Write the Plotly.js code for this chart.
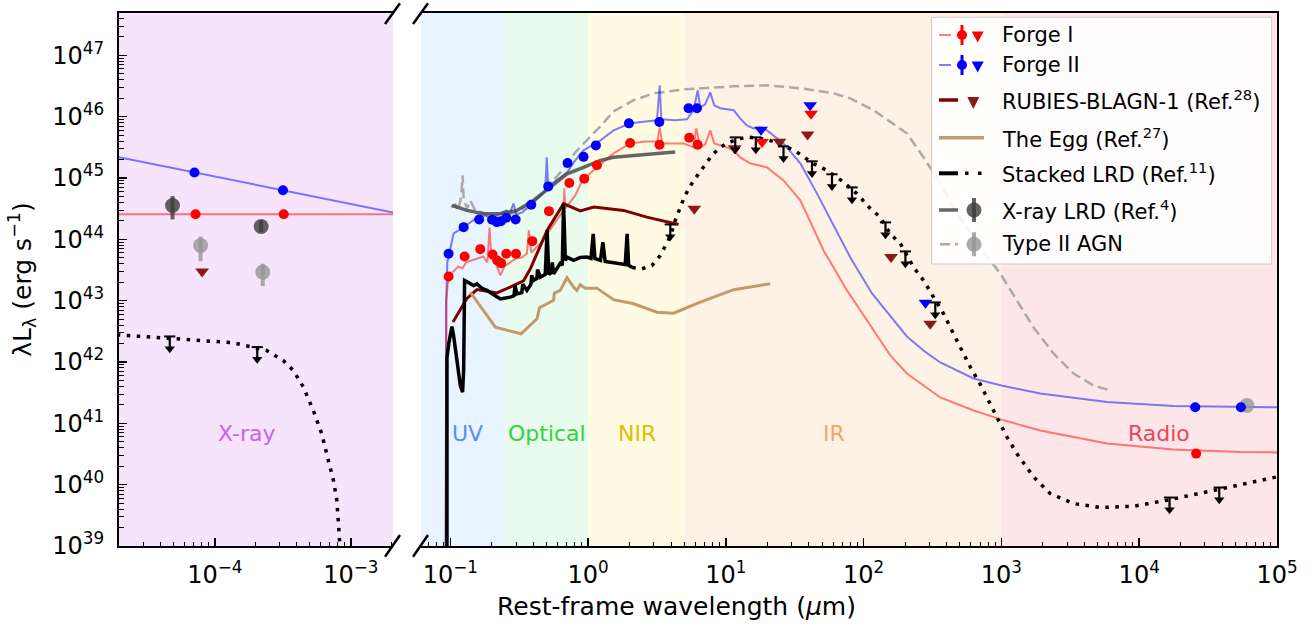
<!DOCTYPE html>
<html><head><meta charset="utf-8">
<script src="https://cdn.plot.ly/plotly-3.0.1.min.js"></script>
<style>html,body{margin:0;padding:0;background:#fff}#chart{width:1316px;height:629px}</style>
</head><body><div id="chart"></div>
<script>
// ===================== DATA =====================
// ---- Left (X-ray) panel: wavelength in micron, luminosity in erg/s ----
const xr_forge1_wl = [7.21e-5, 3.21e-4];
const xr_forge1_L  = [2.57e44, 2.57e44];
const xr_forge1_line_wl = [1e-5, 1e-2];
const xr_forge1_line_L  = [2.57e44, 2.57e44];
const xr_forge2_wl = [7.08e-5, 3.17e-4];
const xr_forge2_L  = [1.23e45, 6.3e44];
const xr_forge2_line_wl = [1e-5, 1e-2];
const xr_forge2_line_L  = [2.95e45, 1.35e44];
const xr_xlrd_wl = [4.88e-5, 2.19e-4];
const xr_xlrd_L  = [3.57e44, 1.62e44];
const xr_xlrd_hi = [5.07e44, 2.03e44];
const xr_xlrd_lo = [2.11e44, 1.31e44];
const xr_type2_wl = [7.85e-5, 2.25e-4];
const xr_type2_L  = [7.94e43, 2.92e43];
const xr_type2_hi = [1.11e44, 4.0e43];
const xr_type2_lo = [4.41e43, 1.73e43];
const xr_rubies_lim_wl = [8.06e-5];
const xr_rubies_lim_L  = [2.99e43];
const xr_lrd_model_wl = [1.9e-5, 4.66e-5, 1.36e-4, 2.40e-4, 3.18e-4, 3.78e-4, 4.48e-4, 5.30e-4, 6.11e-4, 6.84e-4, 7.45e-4, 7.89e-4, 8.20e-4, 8.34e-4, 8.5e-4];
const xr_lrd_model_L  = [2.78e42, 2.44e42, 2.06e42, 1.54e42, 1.06e42, 7.26e41, 3.88e41, 1.62e41, 6.75e40, 2.47e40, 1.17e40, 5.51e39, 1.78e39, 1.22e39, 5e38];
const xr_lrd_lim_wl = [4.66e-5, 2.05e-4];
const xr_lrd_lim_L  = [2.61e42, 1.75e42];

// ---- Right (UV -> radio) panel ----
const forge1_wl = [0.0972, 0.127, 0.165, 0.203, 0.219, 0.234, 0.255, 0.300, 0.394, 0.520, 0.731, 0.938, 1.16, 2.02, 3.30, 5.42, 6.24, 2.59e4];
const forge1_L  = [2.48e43, 5.26e43, 6.92e43, 5.67e43, 4.53e43, 4.09e43, 5.82e43, 5.82e43, 9.34e43, 2.88e44, 8.26e44, 9.73e44, 1.61e45, 3.71e45, 3.49e45, 4.54e45, 3.49e45, 3.21e40];
const forge1_lim_wl = [18.3, 41.5];
const forge1_lim_L  = [3.85e45, 1.12e46];
const forge2_wl = [0.0972, 0.125, 0.162, 0.201, 0.218, 0.233, 0.255, 0.298, 0.387, 0.514, 0.710, 0.927, 1.14, 1.98, 3.29, 5.36, 6.17, 2.55e4, 5.47e4];
const forge2_L  = [5.82e43, 1.58e44, 2.11e44, 2.09e44, 1.91e44, 1.98e44, 2.25e44, 2.11e44, 3.66e44, 7.29e44, 1.75e45, 2.21e45, 3.40e45, 7.78e45, 8.17e45, 1.37e46, 1.37e46, 1.83e41, 1.83e41];
const forge2_lim_wl = [18.0, 40.9, 281];
const forge2_lim_L  = [6.14e45, 1.53e46, 9.25e42];

const forge1_model_wl = [0.0925, 0.0935, 0.0959, 0.1034, 0.1143, 0.1222, 0.1306, 0.1445, 0.1597, 0.1735, 0.1856, 0.1928, 0.1985, 0.2123, 0.231, 0.247, 0.272, 0.301, 0.333, 0.360, 0.372, 0.387, 0.435, 0.473, 0.514, 0.550, 0.587, 0.664, 0.672, 0.684, 0.807, 0.908, 1.16, 1.53, 2.02, 2.60, 3.18, 3.31, 3.45, 4.29, 4.93, 5.83, 6.10, 6.52, 7.08, 7.70, 8.24, 10.2, 11.4, 12.7, 15.0, 17.3, 19.9, 26.2, 34.7, 51.2, 75.7, 112, 156, 206, 360, 628, 1002, 1914, 5834, 1.77e4, 5.41e4, 1.25e5];
const forge1_model_L  = [5.8e38, 1.0e43, 1.91e43, 2.88e43, 3.61e43, 3.35e43, 4.20e43, 4.53e43, 4.88e43, 5.26e43, 4.20e43, 1.56e44, 4.88e43, 4.20e43, 2.58e43, 3.61e43, 4.20e43, 4.88e43, 5.07e43, 5.89e43, 1.40e44, 6.11e43, 7.94e43, 9.59e43, 1.30e44, 1.62e44, 2.03e44, 2.96e44, 6.76e44, 3.19e44, 5.20e44, 9.14e44, 1.49e45, 2.52e45, 3.66e45, 3.95e45, 3.95e45, 6.69e45, 3.66e45, 3.66e45, 3.66e45, 3.16e45, 6.44e45, 3.16e45, 3.53e45, 5.98e45, 3.66e45, 3.16e45, 2.82e45, 2.17e45, 1.73e45, 1.61e45, 1.49e45, 9.14e44, 4.31e44, 6.59e43, 1.47e43, 3.94e42, 1.28e42, 6.49e41, 2.64e41, 1.62e41, 1.15e41, 7.63e40, 4.69e40, 3.74e40, 3.40e40, 3.34e40];
const forge2_model_wl = [0.0925, 0.0935, 0.0951, 0.1057, 0.125, 0.140, 0.156, 0.180, 0.195, 0.231, 0.255, 0.272, 0.288, 0.301, 0.333, 0.381, 0.450, 0.489, 0.501, 0.514, 0.587, 0.703, 0.807, 0.927, 1.23, 1.53, 2.02, 2.60, 3.16, 3.31, 3.40, 4.29, 5.22, 5.83, 6.25, 6.52, 7.08, 7.70, 8.24, 9.10, 11.4, 12.7, 14.2, 15.9, 17.8, 19.9, 26.2, 34.7, 45.8, 60.5, 80.0, 115, 156, 206, 272, 360, 628, 1002, 1914, 5834, 1.77e4, 5.41e4, 1.25e5];
const forge2_model_L  = [5.8e38, 1.0e43, 4.2e43, 1.25e44, 1.56e44, 1.89e44, 2.28e44, 2.45e44, 2.19e44, 2.65e44, 2.96e44, 2.75e44, 3.85e44, 2.55e44, 2.75e44, 3.57e44, 5.01e44, 6.28e44, 2.17e45, 7.29e44, 9.14e44, 1.23e45, 1.94e45, 2.82e45, 4.10e45, 5.98e45, 7.78e45, 8.38e45, 8.71e45, 3.24e46, 9.04e45, 8.71e45, 9.04e45, 1.27e46, 2.69e46, 1.42e46, 1.59e46, 2.49e46, 1.53e46, 1.37e46, 1.27e46, 9.38e45, 7.21e45, 6.44e45, 6.69e45, 5.98e45, 3.66e45, 1.73e45, 5.61e44, 1.69e44, 5.07e43, 1.31e43, 5.74e42, 2.61e42, 1.54e42, 9.82e41, 5.38e41, 4.14e41, 3.06e41, 2.22e41, 1.91e41, 1.85e41, 1.81e41];

const type2_wl = [0.1017, 0.1087, 0.1143, 0.1202, 0.1228, 0.1253, 0.1328, 0.1396, 0.1518, 0.1795, 0.231, 0.322, 0.450, 0.628, 0.807, 1.04, 1.23, 1.53, 2.14, 2.99, 4.93, 11.4, 19.9, 34.7, 60.5, 80.0, 118, 206, 272, 360, 475, 701, 980, 1294, 1710, 2388, 3334, 4656, 6152];
const type2_L  = [3.31e44, 3.71e44, 2.96e44, 5.20e44, 1.10e45, 4.31e44, 3.19e44, 4.31e44, 2.96e44, 2.65e44, 2.19e44, 2.96e44, 5.20e44, 1.23e45, 2.62e45, 4.77e45, 6.95e45, 1.22e46, 1.85e46, 2.40e46, 2.79e46, 3.12e46, 3.24e46, 2.90e46, 2.40e46, 1.99e46, 1.27e46, 5.35e45, 2.17e45, 8.17e44, 2.65e44, 7.38e43, 2.78e43, 1.01e43, 3.66e42, 1.38e42, 6.49e41, 4.14e41, 3.43e41];
const type2_radio_wl = [6.04e4];
const type2_radio_L  = [1.95e41];

const xlrd_wl = [0.1028, 0.1321, 0.1745, 0.231, 0.305, 0.402, 0.532, 0.703, 0.927, 1.23, 1.53, 2.67, 4.29];
const xlrd_L  = [3.57e44, 2.96e44, 2.62e44, 2.62e44, 2.96e44, 4.31e44, 7.11e44, 1.17e45, 1.49e45, 1.94e45, 2.17e45, 2.43e45, 2.65e45];

const rubies_wl = [0.1047, 0.1321, 0.156, 0.218, 0.272, 0.340, 0.381, 0.504, 0.664, 0.877, 1.10, 1.81, 2.67, 4.54];
const rubies_L  = [4.47e42, 1.09e43, 1.52e43, 1.34e43, 1.66e43, 2.10e43, 3.31e43, 1.40e44, 3.81e44, 2.90e44, 3.37e44, 2.96e44, 2.30e44, 1.75e44];
const rubies_lim_wl = [5.90, 11.6, 24.5, 39.2, 158, 304];
const rubies_lim_L  = [3.16e44, 3.04e45, 3.88e45, 5.14e45, 5.13e43, 4.20e42];

const egg_wl = [0.1396, 0.2123, 0.326, 0.426, 0.444, 0.562, 0.569, 0.628, 0.703, 0.785, 0.830, 0.877, 0.955, 1.16, 1.53, 2.14, 3.16, 4.17, 6.52, 11.4, 21.0];
const egg_L  = [1.38e43, 3.70e42, 2.88e42, 5.07e42, 7.66e42, 1.01e43, 1.33e43, 1.47e43, 2.37e43, 1.66e43, 1.47e43, 1.82e43, 1.60e43, 1.60e43, 1.04e43, 8.90e42, 6.49e42, 6.25e42, 9.44e42, 1.51e43, 1.89e43];

const lrd_spec_wl = [0.0946, 0.0946, 0.0975, 0.1028, 0.1059, 0.1119, 0.1183, 0.1228, 0.125, 0.127, 0.1358, 0.1477, 0.156, 0.170, 0.1846, 0.201, 0.231, 0.272, 0.290, 0.295, 0.305, 0.330, 0.336, 0.360, 0.385, 0.390, 0.402, 0.425, 0.430, 0.450, 0.489, 0.504, 0.519, 0.545, 0.550, 0.562, 0.628, 0.650, 0.664, 0.684, 0.703, 0.785, 0.877, 0.979, 1.05, 1.09, 1.12, 1.23, 1.28, 1.33, 1.71, 1.86, 1.92, 1.97, 2.09];
const lrd_spec_L  = [5.8e38, 1.18e42, 2.00e42, 3.79e42, 2.61e42, 9.82e41, 4.14e41, 3.22e41, 7.26e41, 2.14e43, 1.98e43, 1.77e43, 1.88e43, 1.58e43, 1.47e43, 1.29e43, 1.07e43, 1.14e43, 1.20e43, 1.75e43, 1.29e43, 1.35e43, 1.85e43, 1.47e43, 1.85e43, 2.6e43, 2.14e43, 2.3e43, 3.2e43, 2.42e43, 2.68e43, 1.40e44, 2.68e43, 2.9e43, 4.2e43, 2.75e43, 4.05e43, 3.79e43, 3.81e44, 4.53e43, 5.13e43, 4.53e43, 5.07e43, 5.13e43, 4.88e43, 1.23e44, 4.88e43, 4.53e43, 8.99e43, 4.37e43, 4.05e43, 3.90e43, 1.23e44, 3.79e43, 3.48e43];
const lrd_model_wl = [2.09, 2.46, 2.91, 3.34, 3.95, 4.29, 4.80, 5.36, 6.00, 7.08, 7.92, 9.10, 10.5, 12.7, 14.6, 19.9, 24.8, 32.8, 43.3, 54.2, 71.5, 89.3, 112, 132, 156, 185, 230, 272, 321, 380, 475, 594, 701, 829, 1097, 1294, 1710, 2259, 3334, 5212, 9099, 1.59e4, 2.62e4, 4.57e4, 1e5];
const lrd_model_L  = [3.48e43, 3.31e43, 3.75e43, 5.46e43, 1.11e44, 2.03e44, 3.90e44, 6.76e44, 9.84e44, 1.61e45, 2.34e45, 3.16e45, 3.81e45, 4.38e45, 4.65e45, 4.22e45, 3.63e45, 2.65e45, 1.71e45, 1.33e45, 8.57e44, 5.55e44, 3.16e44, 2.30e44, 1.23e44, 8.47e43, 3.52e43, 2.14e43, 1.14e43, 6.12e42, 2.24e42, 8.32e41, 4.35e41, 2.10e41, 5.98e40, 3.21e40, 1.34e40, 7.16e39, 4.92e39, 4.24e39, 4.45e39, 5.57e39, 7.16e39, 9.18e39, 1.34e40];
const lrd_lim_wl = [3.95, 11.7, 16.5, 26.2, 42.2, 58.9, 82.3, 144, 201, 331, 1.66e4, 3.81e4];
const lrd_lim_L  = [1.75e44, 4.59e45, 4.59e45, 3.28e45, 1.87e45, 1.15e45, 7.03e44, 1.89e44, 6.35e43, 9.35e42, 6.17e39, 8.98e39];

// wavelength bands (micron) and labels
const band_edges  = [0.25, 1, 5, 1000];
const band_names  = ['X-ray', 'UV', 'Optical', 'NIR', 'IR', 'Radio'];

// ticks
const xr_tick_vals = [1e-4, 1e-3];
const xr_tick_text = ['10<sup>−4</sup>', '10<sup>−3</sup>'];
const x_tick_vals = [1e-1, 1e0, 1e1, 1e2, 1e3, 1e4, 1e5];
const x_tick_text = ['10<sup>−1</sup>', '10<sup>0</sup>', '10<sup>1</sup>', '10<sup>2</sup>', '10<sup>3</sup>', '10<sup>4</sup>', '10<sup>5</sup>'];
const y_tick_vals = [1e39, 1e40, 1e41, 1e42, 1e43, 1e44, 1e45, 1e46, 1e47];
const y_tick_text = ['10<sup>39</sup>', '10<sup>40</sup>', '10<sup>41</sup>', '10<sup>42</sup>', '10<sup>43</sup>', '10<sup>44</sup>', '10<sup>45</sup>', '10<sup>46</sup>', '10<sup>47</sup>'];

const legend_labels = ['Forge I', 'Forge II', 'RUBIES-BLAGN-1 (Ref.<sup>28</sup>)', 'The Egg (Ref.<sup>27</sup>)', 'Stacked LRD (Ref.<sup>11</sup>)', 'X-ray LRD (Ref.<sup>4</sup>)', 'Type II AGN'];

// ===================== STYLE =====================
const FONT = 'DejaVu Sans, Verdana, sans-serif';
const C = {
  red: '#ff0000', redLine: 'rgba(255,0,0,0.5)',
  blue: '#0000ff', blueLine: 'rgba(0,0,255,0.5)',
  rubLine: '#800000', rubTri: '#8b1a1a',
  egg: '#c49a6c', xlrd: 'rgba(75,75,75,0.85)', xlrdPt: 'rgba(60,60,60,0.8)',
  type2: '#aaaaaa', type2Pt: 'rgba(150,150,150,0.8)'
};
const X1_RANGE = [-4.705, -2.690];
const X2_RANGE = [-1.2126, 5];
const Y_RANGE = [39, 47.69];

function minorVals(d0, d1) { const v = []; for (let d = d0; d <= d1; d++) for (let k = 2; k <= 9; k++) v.push(k * Math.pow(10, d)); return v; }

function lineTr(x, y, xa, ya, color, width, dash) {
  return {type: 'scatter', mode: 'lines', x: x, y: y, xaxis: xa, yaxis: ya,
    line: {color: color, width: width, dash: dash || 'solid'}, hoverinfo: 'skip', showlegend: false};
}
function markTr(x, y, xa, ya, symbol, size, color, err, errColor) {
  const t = {type: 'scatter', mode: 'markers', x: x, y: y, xaxis: xa, yaxis: ya,
    marker: {symbol: symbol, size: size, color: color, line: {width: 0}}, hoverinfo: 'skip', showlegend: false};
  if (err) {
    t.error_y = {type: 'data', symmetric: false,
      array: err.hi.map((h, i) => h - y[i]), arrayminus: err.lo.map((l, i) => y[i] - l),
      thickness: 4, width: 0, color: errColor};
  }
  return t;
}
// upper-limit arrows: cap at the limit, shaft, and arrow head below
function arrowTr(x, y, xa, ya) {
  const drop = Math.pow(10, 0.2);
  const yb = y.map(v => v / drop);
  return [
    {type: 'scatter', mode: 'markers', x: x, y: yb, xaxis: xa, yaxis: ya, marker: {size: 1, color: 'rgba(0,0,0,0)'},
     error_y: {type: 'data', symmetric: false, array: y.map((v, i) => v - yb[i]), arrayminus: y.map(() => 0),
       width: 0, thickness: 2.2, color: 'black'}, hoverinfo: 'skip', showlegend: false},
    {type: 'scatter', mode: 'markers', x: x, y: y, xaxis: xa, yaxis: ya,
     marker: {symbol: 'line-ew', size: 8, line: {width: 2, color: 'black'}}, hoverinfo: 'skip', showlegend: false},
    {type: 'scatter', mode: 'markers', x: x, y: yb, xaxis: xa, yaxis: ya,
     marker: {symbol: 'triangle-down', size: 9, color: 'black', line: {width: 0}}, hoverinfo: 'skip', showlegend: false}
  ];
}

const DOT = '3.5px,6.5px';
const traces = [
  // left panel
  lineTr(xr_forge2_line_wl, xr_forge2_line_L, 'x', 'y', C.blueLine, 2),
  lineTr(xr_forge1_line_wl, xr_forge1_line_L, 'x', 'y', C.redLine, 2),
  lineTr(xr_lrd_model_wl, xr_lrd_model_L, 'x', 'y', 'black', 3.5, DOT),
  markTr(xr_xlrd_wl, xr_xlrd_L, 'x', 'y', 'circle', 15, C.xlrdPt, {hi: xr_xlrd_hi, lo: xr_xlrd_lo}, C.xlrdPt),
  markTr(xr_type2_wl, xr_type2_L, 'x', 'y', 'circle', 15, C.type2Pt, {hi: xr_type2_hi, lo: xr_type2_lo}, C.type2Pt),
  markTr(xr_forge2_wl, xr_forge2_L, 'x', 'y', 'circle', 10, C.blue),
  markTr(xr_forge1_wl, xr_forge1_L, 'x', 'y', 'circle', 10, C.red),
  markTr(xr_rubies_lim_wl, xr_rubies_lim_L, 'x', 'y', 'triangle-down', 12, C.rubTri)
].concat(arrowTr(xr_lrd_lim_wl, xr_lrd_lim_L, 'x', 'y')).concat([
  // right panel
  lineTr(type2_wl, type2_L, 'x2', 'y2', C.type2, 2.5, '10px,5px'),
  lineTr(forge2_model_wl, forge2_model_L, 'x2', 'y2', C.blueLine, 2),
  lineTr(forge1_model_wl, forge1_model_L, 'x2', 'y2', C.redLine, 2),
  lineTr(xlrd_wl, xlrd_L, 'x2', 'y2', C.xlrd, 3.5),
  lineTr(rubies_wl, rubies_L, 'x2', 'y2', C.rubLine, 3),
  lineTr(egg_wl, egg_L, 'x2', 'y2', C.egg, 3),
  lineTr(lrd_spec_wl, lrd_spec_L, 'x2', 'y2', 'black', 3.5),
  lineTr(lrd_model_wl, lrd_model_L, 'x2', 'y2', 'black', 3.5, DOT),
  markTr(type2_radio_wl, type2_radio_L, 'x2', 'y2', 'circle', 15, C.type2Pt),
  markTr(forge2_wl, forge2_L, 'x2', 'y2', 'circle', 10, C.blue),
  markTr(forge2_lim_wl, forge2_lim_L, 'x2', 'y2', 'triangle-down', 12, C.blue),
  markTr(forge1_wl, forge1_L, 'x2', 'y2', 'circle', 10, C.red),
  markTr(forge1_lim_wl, forge1_lim_L, 'x2', 'y2', 'triangle-down', 12, C.red),
  markTr(rubies_lim_wl, rubies_lim_L, 'x2', 'y2', 'triangle-down', 12, C.rubTri)
]).concat(arrowTr(lrd_lim_wl, lrd_lim_L, 'x2', 'y2'));

// ===================== LAYOUT =====================
const ML = 119, MR = 39, MT = 13, MB = 83, W = 1316, H = 629;
const PW = W - ML - MR, PH = H - MT - MB;
const PX = px => (px - ML) / PW;
const PY = py => (H - MB - py) / PH;

function axisBase() {
  return {type: 'log', showline: true, linewidth: 2, linecolor: 'black', showgrid: false, zeroline: false,
    ticks: 'inside', ticklen: 8, tickwidth: 1.5, tickcolor: 'black', tickmode: 'array',
    tickfont: {size: 24, color: 'black', family: FONT}, ticklabelstandoff: 6};
}
const xaxis = Object.assign(axisBase(), {domain: [0, PX(393)], range: X1_RANGE, anchor: 'y', mirror: true,
  tickvals: xr_tick_vals, ticktext: xr_tick_text,
  minor: {tickmode: 'array', tickvals: minorVals(-5, -3), ticks: 'inside', ticklen: 4.5, tickwidth: 1, tickcolor: 'black', showgrid: false}});
const xaxis2 = Object.assign(axisBase(), {domain: [PX(421), 1], range: X2_RANGE, anchor: 'y2', mirror: true,
  tickvals: x_tick_vals, ticktext: x_tick_text,
  minor: {tickmode: 'array', tickvals: minorVals(-2, 4), ticks: 'inside', ticklen: 4.5, tickwidth: 1, tickcolor: 'black', showgrid: false}});
const yaxis = Object.assign(axisBase(), {domain: [0, 1], range: Y_RANGE, anchor: 'x', ticklabelstandoff: 8,
  tickvals: y_tick_vals, ticktext: y_tick_text,
  minor: {tickmode: 'array', tickvals: minorVals(38, 47), ticks: 'inside', ticklen: 4.5, tickwidth: 1, tickcolor: 'black', showgrid: false},
  title: {text: 'λL<sub>λ</sub> (erg s<sup>−1</sup>)', font: {size: 25, color: 'black', family: FONT}, standoff: 14}});
const yaxis2 = {type: 'log', domain: [0, 1], range: Y_RANGE, anchor: 'x2', side: 'right', showline: true, linewidth: 2,
  linecolor: 'black', ticks: '', showticklabels: false, showgrid: false, zeroline: false};

const shapes = [];
// band shading
shapes.push({type: 'rect', xref: 'x domain', yref: 'paper', x0: 0, x1: 1, y0: 0, y1: 1, fillcolor: '#f5e4fc', line: {width: 0}, layer: 'below'});
const bandColors = ['#e8f4ff', '#e8fbec', '#fffbe3', '#fef2e6', '#fde6e8'];
const bandStarts = [Math.pow(10, X2_RANGE[0])].concat(band_edges);
const bandEnds = band_edges.concat([Math.pow(10, X2_RANGE[1])]);
for (let i = 0; i < bandColors.length; i++) {
  shapes.push({type: 'rect', xref: 'x2', yref: 'paper', x0: bandStarts[i], x1: bandEnds[i], y0: 0, y1: 1,
    fillcolor: bandColors[i], line: {width: 0}, layer: 'below'});
}
// axis-break marks
[[385, 24, 400, 3.3], [413, 24, 428, 3.3], [385, 556.7, 400, 535], [413, 556.7, 428, 535]].forEach(s => {
  shapes.push({type: 'line', xref: 'paper', yref: 'paper', x0: PX(s[0]), y0: PY(s[1]), x1: PX(s[2]), y1: PY(s[3]), line: {color: 'black', width: 2.5}});
});
// legend box + glyphs
shapes.push({type: 'rect', xref: 'paper', yref: 'paper', x0: PX(931.7), x1: PX(1271.7), y0: PY(264), y1: PY(17.3),
  fillcolor: 'rgba(255,255,255,0.88)', line: {color: '#cccccc', width: 1}});
function lnS(x0, y0, x1, y1, color, width, dash) {
  shapes.push({type: 'line', xref: 'paper', yref: 'paper', x0: PX(x0), y0: PY(y0), x1: PX(x1), y1: PY(y1), line: {color: color, width: width, dash: dash || 'solid'}});
}
function cirS(cx, cy, r, color) {
  shapes.push({type: 'circle', xref: 'paper', yref: 'paper', x0: PX(cx - r), x1: PX(cx + r), y0: PY(cy + r), y1: PY(cy - r), fillcolor: color, line: {width: 0}});
}
function triS(cx, cy, w, h, color) {
  shapes.push({type: 'path', xref: 'paper', yref: 'paper',
    path: 'M' + PX(cx - w / 2) + ',' + PY(cy - h / 2) + ' L' + PX(cx + w / 2) + ',' + PY(cy - h / 2) + ' L' + PX(cx) + ',' + PY(cy + h / 2) + ' Z',
    fillcolor: color, line: {width: 0}});
}
const rowY = [35, 65, 100, 137.7, 173.3, 210, 244.3];
// Forge I
lnS(939, rowY[0], 951, rowY[0], C.redLine, 2); lnS(962, rowY[0] - 10, 962, rowY[0] + 10, C.red, 3); cirS(962, rowY[0], 5, C.red); triS(977.7, rowY[0] + 2, 12, 11, C.red);
// Forge II
lnS(939, rowY[1], 951, rowY[1], C.blueLine, 2); lnS(962, rowY[1] - 10, 962, rowY[1] + 10, C.blue, 3); cirS(962, rowY[1], 5, C.blue); triS(977.7, rowY[1] + 2, 12, 11, C.blue);
// RUBIES
lnS(939, rowY[2], 958, rowY[2], C.rubLine, 3.5); triS(973.3, rowY[2] + 3, 12, 12, C.rubTri);
// Egg
lnS(939, rowY[3], 984, rowY[3], C.egg, 3.5);
// Stacked LRD
lnS(939, rowY[4], 958, rowY[4], 'black', 4); lnS(965, rowY[4], 984, rowY[4], 'black', 3.5, '3.5px,9.5px');
// X-ray LRD
lnS(939, rowY[5], 958, rowY[5], C.xlrd, 3.5); lnS(974, rowY[5] - 12, 974, rowY[5] + 12, C.xlrdPt, 4); cirS(974, rowY[5], 7.5, C.xlrdPt);
// Type II
lnS(940, rowY[6], 958, rowY[6], C.type2, 2.5, '10px,5px'); lnS(974, rowY[6] - 12, 974, rowY[6] + 12, C.type2Pt, 4); cirS(974, rowY[6], 7.5, C.type2Pt);

const annotations = [];
legend_labels.forEach((t, i) => annotations.push({xref: 'paper', yref: 'paper', x: PX(1000), y: PY(rowY[i]), xanchor: 'left', yanchor: 'middle',
  text: t, showarrow: false, font: {size: 21, color: 'black', family: FONT}}));
// band labels
const bandLabelPx = [246.7, 467.5, 547, 637.3, 834, 1159];
const bandLabelColors = ['#c862f0', '#5a8ef0', '#34d140', '#dcc000', '#f0a860', '#e8475c'];
band_names.forEach((t, i) => annotations.push({xref: 'paper', yref: 'paper', x: PX(bandLabelPx[i]), y: PY(433), xanchor: 'center', yanchor: 'middle',
  text: t, showarrow: false, font: {size: 22, color: bandLabelColors[i], family: FONT}}));
// x title
annotations.push({xref: 'paper', yref: 'paper', x: PX(676.5), y: PY(606), xanchor: 'center', yanchor: 'middle',
  text: 'Rest-frame wavelength (<i>μ</i>m)', showarrow: false, font: {size: 25, color: 'black', family: FONT}});

const layout = {width: W, height: H, margin: {l: ML, r: MR, t: MT, b: MB, pad: 0},
  paper_bgcolor: 'white', plot_bgcolor: 'white', showlegend: false,
  font: {family: FONT, color: 'black'},
  xaxis: xaxis, xaxis2: xaxis2, yaxis: yaxis, yaxis2: yaxis2,
  shapes: shapes, annotations: annotations};

Plotly.newPlot('chart', traces, layout, {staticPlot: true, displayModeBar: false});
</script></body></html>
